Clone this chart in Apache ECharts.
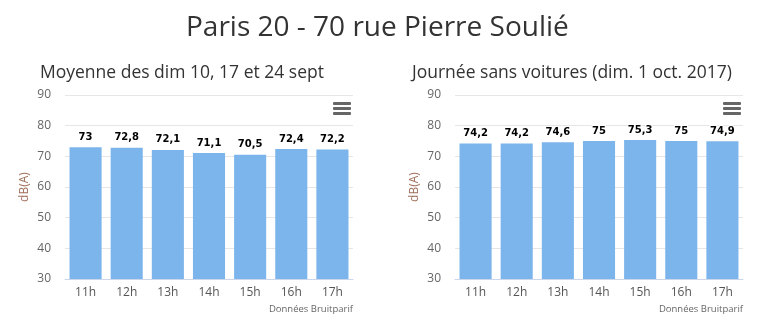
<!DOCTYPE html>
<html><head><meta charset="utf-8">
<script src="https://cdn.jsdelivr.net/npm/echarts@6/dist/echarts.min.js"></script>
<style>html,body{margin:0;padding:0;background:#fff}#c{width:772px;height:333px}</style>
</head><body><div id="c"></div>
<script>
const categories = ['11h','12h','13h','14h','15h','16h','17h'];
const avgSeptValues = [73, 72.8, 72.1, 71.1, 70.5, 72.4, 72.2];
const carFreeDayValues = [74.2, 74.2, 74.6, 75, 75.3, 75, 74.9];
const mainTitle = 'Paris 20 - 70 rue Pierre Soulié';
const leftTitle = 'Moyenne des dim 10, 17 et 24 sept';
const rightTitle = 'Journée sans voitures (dim. 1 oct. 2017)';
const yName = 'dB(A)';
const credits = 'Données Bruitparif';

const FONT = '"Open Sans", "Noto Sans", sans-serif';
const chart = echarts.init(document.getElementById('c'), null, {renderer:'canvas'});
const fmt = p => String(p.value).replace('.', ',');

function yAxis(idx){
  return {gridIndex: idx, type:'value', min:30, max:90, interval:10,
    name: yName, nameLocation:'middle', nameGap:34, nameRotate:90,
    nameTextStyle:{color:'#a0705a', fontSize:12, fontFamily:FONT},
    axisLine:{show:false}, axisTick:{show:false},
    axisLabel:{color:'#666', fontSize:12, fontFamily:FONT, margin:14},
    splitLine:{lineStyle:{color:'#e6e6e6', width:1}}};
}
function xAxis(idx){
  return {gridIndex: idx, type:'category', data: categories,
    axisLine:{lineStyle:{color:'#ccd6eb'}},
    axisTick:{length:9, lineStyle:{color:'#ccd6eb'}},
    axisLabel:{color:'#555', fontSize:12, fontFamily:FONT, margin:8}};
}
function series(idx, data){
  return {type:'bar', xAxisIndex:idx, yAxisIndex:idx, data:data,
    barCategoryGap:'22%', itemStyle:{color:'#7cb5ec'},
    label:{show:true, position:'top', distance:5, formatter:fmt,
      color:'#000', fontWeight:'bold', fontSize:10, fontFamily:'"DejaVu Sans", sans-serif',
      textBorderColor:'#fff', textBorderWidth:2}};
}
function menu(x, y){
  return [0,5,10].map(d => ({type:'rect', shape:{x:x, y:y+d, width:18, height:3, r:1},
    style:{fill:'#666'}}));
}

chart.setOption({
  animation:false,
  title:[
    {text: mainTitle, left:186, top:14, padding:0, textStyle:{fontSize:28, fontWeight:'normal', color:'#333', fontFamily:FONT}},
    {text: leftTitle, left:40, top:64, padding:0, textStyle:{fontSize:17.5, fontWeight:'normal', color:'#333', fontFamily:FONT}},
    {text: rightTitle, left:412, top:64, padding:0, textStyle:{fontSize:17.5, fontWeight:'normal', color:'#333', fontFamily:FONT}},
    {text: credits, right:419, top:304, padding:0, textStyle:{fontSize:9.5, fontWeight:'normal', color:'#666', fontFamily:FONT}},
    {text: credits, right:29, top:304, padding:0, textStyle:{fontSize:9.5, fontWeight:'normal', color:'#666', fontFamily:FONT}}
  ],
  grid:[
    {left:65, top:95, width:288, height:184},
    {left:455, top:95, width:288, height:184}
  ],
  xAxis:[xAxis(0), xAxis(1)],
  yAxis:[yAxis(0), yAxis(1)],
  series:[series(0, avgSeptValues), series(1, carFreeDayValues)],
  graphic: [...menu(333,102), ...menu(723,102)]
});
</script></body></html>
